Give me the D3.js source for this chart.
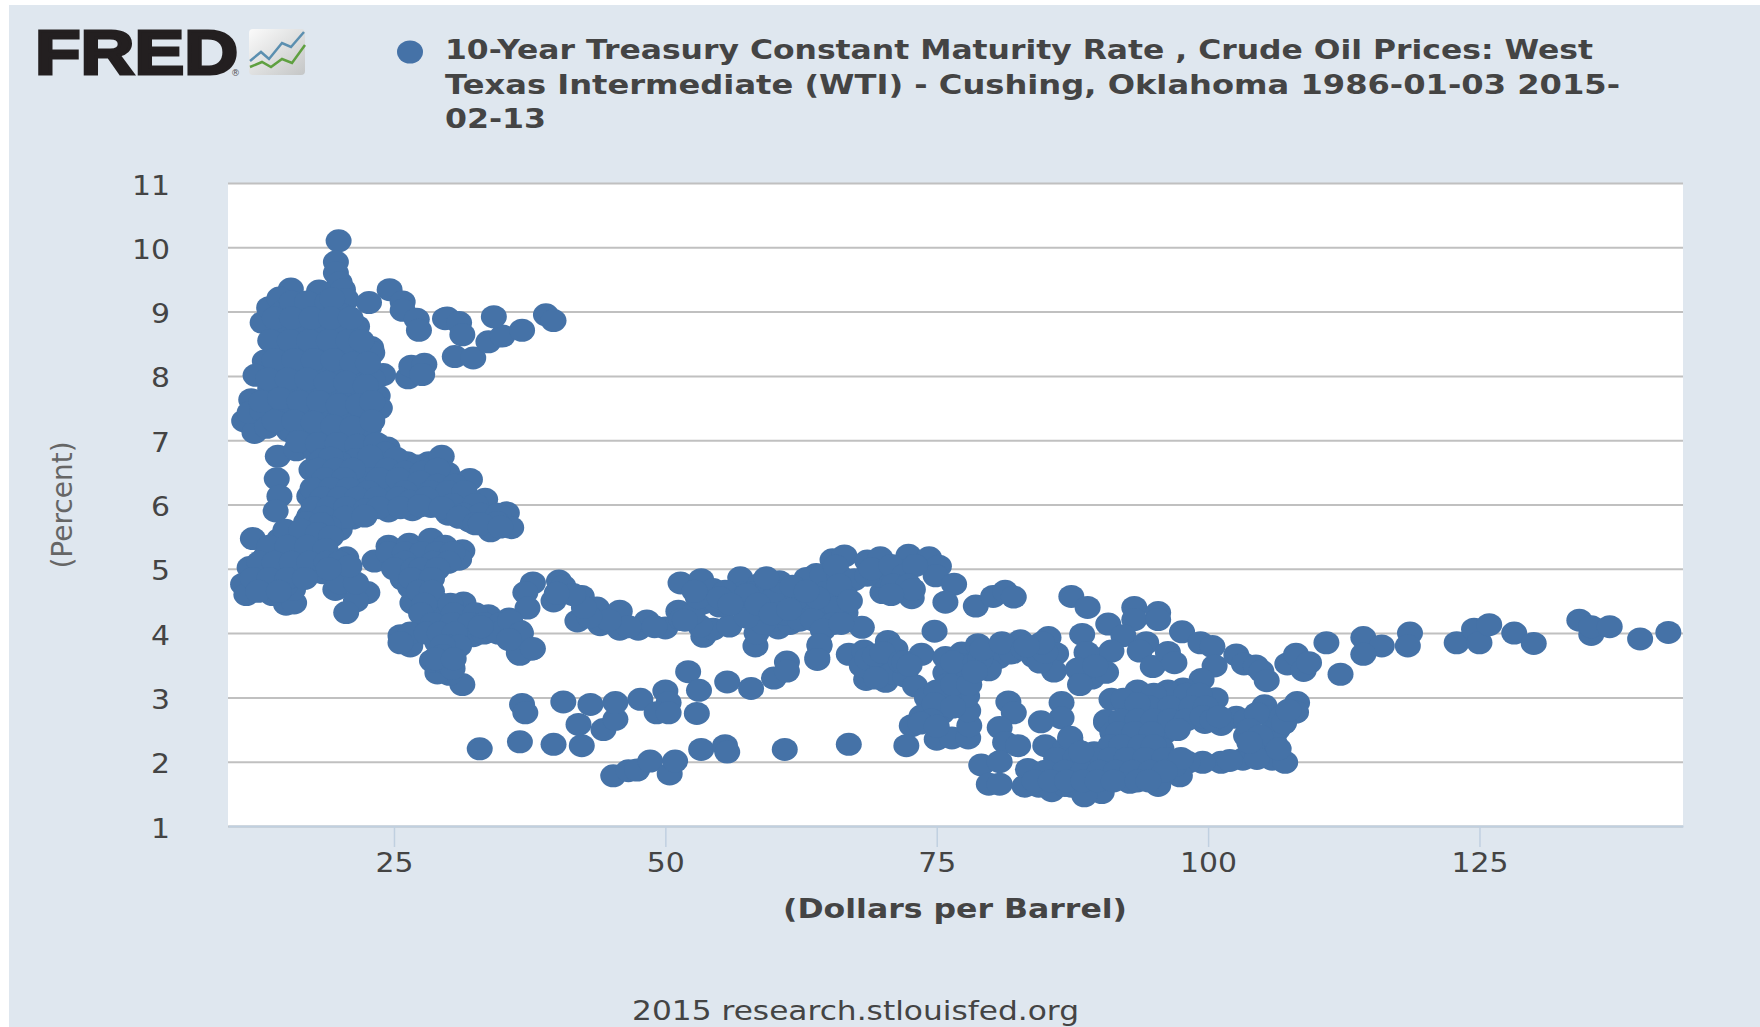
<!DOCTYPE html>
<html>
<head>
<meta charset="utf-8">
<title>FRED scatter</title>
<script src="https://cdn.jsdelivr.net/npm/d3@7"></script>
<style>
  body { margin: 0; background: white; overflow: hidden; }
  text { font-family: "DejaVu Sans", sans-serif; fill: #444; }
</style>
</head>
<body>
<script>
const upperCloud = [
  [19.9,10.1],[19.65,9.77],[19.65,9.6],[15.5,9.35],[20,9.45],[18.1,9.32],[20.3,9.34],[20.6,9.19],
  [12.9,8.83],[13.5,9.06],[14.45,9.21],[13.1,8.23],[12.25,8.01],[11.85,7.63],[11.2,7.3],[12.15,7.12],[11.7,7.43],
  [21.6,8.77],[22.9,8.44],[23,8.36],[24,8.02],[23.5,7.69],[23.7,7.5],[22.7,7.2],[24.4,6.88],[14.3,6.75],
  [14.8,9],[16.6,9.1],[18.4,9.05],[20.2,8.95],[14.6,8.7],[16.4,8.78],[18.2,8.7],[20,8.65],[21.4,8.45],
  [15,8.4],[16.8,8.45],[18.6,8.38],[20.4,8.32],[22,8.15],[14.4,8.1],[16.2,8.12],[18,8.05],[19.8,8.02],[21.6,7.9],[23,7.95],
  [13.6,7.8],[15.4,7.82],[17.2,7.75],[19,7.72],[20.8,7.68],[22.4,7.62],[12.9,7.45],[14.7,7.5],[16.5,7.45],[18.3,7.42],[20.1,7.38],[21.9,7.35],
  [13.3,7.2],[15.3,7.15],[17.1,7.12],[18.9,7.08],[20.7,7.05],[22.3,7],[16,6.85],[17.8,6.82],[19.6,6.8],[21.4,6.78],[23.2,6.72],
  [15.6,9.15],[17,9.15],[18.9,9.15],[19.3,9.2],[14,8.9],[15.6,8.9],[17.4,8.9],[19.2,8.9],[21,8.9],
  [13.6,8.55],[15.4,8.55],[17.2,8.55],[19,8.55],[20.8,8.55],[22,8.55],[14,8.25],[15.8,8.25],[17.6,8.25],[19.4,8.25],[21.2,8.2],[22.6,8.2],
  [13.4,7.95],[15.2,7.95],[17,7.95],[18.8,7.9],[20.6,7.9],[22.4,7.85],[12.8,7.6],[14.5,7.65],[16.3,7.6],[18.1,7.6],[19.9,7.55],[21.7,7.55],[23,7.6],
  [14,7.3],[15.8,7.3],[17.6,7.28],[19.4,7.22],[21.2,7.2],[23,7.3],[16.2,6.98],[18,6.95],[19.8,6.95],[21.6,6.92],[23.4,6.95]
];
const middleCloud = [
  [14.2,6.4],[14.45,6.13],[14.1,5.9],[17.4,6.54],[17.2,6.13],[17.2,5.82],[18.4,6.7],[24.2,6.8],[26.2,6.65],[28.2,6.65],[29.4,6.75],
  [29.9,6.49],[32,6.39],[33.4,6.08],[35.4,5.87],[35.8,5.64],[33.9,5.59],[32,5.74],[30,5.85],[28.4,5.97],[26.7,5.92],[24.5,5.9],[21.2,5.79],[20,5.61],[18.4,5.46],
  [22.4,6.34],[24.2,6.29],[26.1,6.34],[28.2,6.38],[27,6.13],[29.4,6.13],[31,6.08],[31.9,5.97],[22,6.03],[19.7,6.39],[19.7,6.03],[21.5,6.7],[20,6.65],[23,6.55],[25,6.5],[24.5,6.1],[21,6.2],
  [19.2,6.72],[22.8,6.75],[25.2,6.72],[27.2,6.6],[18,6.55],[19.6,6.55],[21.2,6.55],[24.4,6.55],[26,6.5],[27.6,6.5],[29,6.55],
  [18.6,6.4],[20.4,6.4],[23.6,6.4],[25.4,6.4],[27.4,6.35],[29,6.3],[30.6,6.3],[17.5,6.25],[19.2,6.25],[20.8,6.25],[22.6,6.2],[26,6.2],[28.4,6.2],[30,6.2],[31.5,6.2],
  [18.4,6.1],[20,6.1],[21.6,6.1],[23.4,6.1],[25.4,6.1],[26.5,6.05],[28,6.1],[30.4,6],[32.5,6],[17.6,5.95],[19,5.95],[20.6,5.95],[22.4,5.92],[23.6,5.95],[25.6,5.95],[27.4,5.98],[29.4,5.95],[31.4,5.85],[33,5.85],[34.6,5.85],
  [18.5,5.8],[20.5,5.8],[22.3,5.82],[31,5.8],[32.5,5.7],[34.5,5.72],[17.5,5.65],[19,5.65],[33,5.7],[34.8,5.65]
];
const lowerLeftCloud = [
  [12,5.47],[11.7,5.02],[11.1,4.76],[11.4,4.6],[13.8,4.6],[15.06,4.45],[15.8,4.47],[15.7,4.68],[14.1,4.94],[13.2,5.2],
  [16,5.2],[16,5.46],[14.45,5.46],[16.9,5.72],[18.3,5.7],[18.1,5.2],[18.4,4.94],[20.6,5.17],[20.3,4.94],[19.6,4.68],[22.55,4.63],[21.5,4.5],[20.6,4.32],
  [13,4.85],[14.8,5.2],[16.5,4.95],[15,4.75],[17.2,5.45],
  [15,5.6],[16.5,5.6],[18,5.55],[19.2,5.5],[13.5,5.35],[15.2,5.35],[17,5.35],[18.7,5.3],[12.6,5.1],[14,5.1],[15.6,5.1],[17.2,5.1],[18.8,5.1],[20,5.1],
  [12,4.85],[13.5,4.85],[15.2,4.85],[16.8,4.85],[12.5,4.65],[14.4,4.65],[20,4.78],[21.5,4.78],[20.9,5.04],[19,5]
];
const secondCloud = [
  [23.2,5.12],[24.5,5.35],[26.4,5.38],[28.4,5.46],[29.7,5.35],[31.3,5.28],[31,5.15],[29.4,5.09],[27.5,5.15],[25.2,5.09],
  [25.8,4.84],[27.3,4.84],[28.2,4.94],[26.7,4.47],[26.5,4.71],[29.1,4.47],[31.4,4.47],[33.7,4.27],[35.6,4.22],[36.6,4.03],[37.7,3.75],[36.6,3.67],
  [25.6,3.96],[26.5,3.8],[29.7,4.11],[31.3,4.06],[32.3,3.96],[28.2,4.27],[29.7,4.3],[31,4.25],[27.5,4.05],[34,4.05],[35.5,4.02],
  [31.3,3.2],[30.1,3.36],[29,3.38],[28.5,3.57],[30.5,3.7],[29,3.85],[30.6,3.9],
  [24.5,5.25],[26,5.25],[27.6,5.25],[29,5.25],[30.4,5.25],[26,5.1],[28.6,5.1],[30,5.1],[25,5],[26.8,5],[27.5,5],[29,5],[26.6,4.85],[28.5,4.85],[27.3,4.65],[28.5,4.65],
  [27.8,4.45],[30.2,4.45],[30.5,4.3],[32.5,4.3],[27.5,4.3],[28.6,4.15],[30.4,4.15],[32,4.15],[33.3,4.15],[34.8,4.15],[26.5,4],[28,4],[29.2,4],[30.6,4],[33.3,4],[34.6,4],
  [25.6,3.85],[30,3.8],[31,3.8],[29.5,3.8],[29.5,3.65],[29.6,3.55],[30.4,3.45],[28.8,3.6],[30.5,3.6],[33,4.1],[36.2,3.85]
];
const fortiesToSixties = [
  [37.8,4.78],[37.1,4.63],[37.3,4.39],[35.7,4.19],[36.7,4],[36.5,3.69],[37.8,3.76],[35.6,3.9],
  [40.2,4.81],[40.6,4.73],[39.7,4.5],[42.3,4.57],[43.7,4.39],[41.9,4.19],[45.8,4.34],[44,4.13],[45.8,4.06],[47.5,4.06],[48.3,4.19],[50,4.08],[51.2,4.34],[51.5,4.21],
  [51.4,4.78],[53.3,4.83],[54.4,4.68],[53.5,4.47],[53.5,3.95],[54.4,4.06],[53.2,4.11],[55.9,4.11],[56.9,4.86],[58.7,4.76],[56.2,4.52],[55,4.42],
  [58.3,3.8],[58.4,4],[60.4,4.08],[60.7,4.73],[58.4,4.3],[59,4.57],[61.7,4.37],[62.3,4.73],[63.9,4.91],[63.7,4.21],[64.2,3.8],[64,3.62],[65.4,5.14],
  [60,4.4],[62.5,4.5],[57.5,4.45],[65,4.7],[65.2,4.3],[60.5,4.55],
  [54.6,4.5],[57,4.62],[58,4.62],[55.5,4.65],[59.5,4.75],[61,4.6],[63.5,4.6],[62.5,4.3],[60,4.2],[59,4.15],[61.5,4.15],[61,4.3],[57.5,4.25],
  [63,4.85],[64.5,4.9],[66,4.9],[65.5,4.55],[63,4.4],[66,4.45],[52.5,4.3],[53,4.55],[51.8,4.2],[49,4.1],[46.6,4.1],[44.8,4.2],[43,4.25],[42.5,4.4],[41.5,4.6],[40,4.62],
  [52.7,4.65],[55,4.55],[57.5,4.6],[56,4.45],[60,4.55],[62.2,4.55],[60.5,4.8],[59.3,4.86],[58.5,4.45],[59.8,4.3],[62.4,4.2]
];
const lowRatesLeft = [
  [32.9,2.2],[36.8,2.89],[37.1,2.76],[36.6,2.31],[39.7,2.27],[42.3,2.25],[40.6,2.93],[43.1,2.89],[42,2.58],[44.3,2.5],[45.4,2.66],[45.4,2.92],[47.7,2.97],
  [50,3.1],[50.3,2.92],[49.2,2.76],[50.3,2.76],[52.1,3.4],[53.1,3.11],[52.9,2.75],[55.7,3.24],[57.9,3.14],[60,3.3],[61.2,3.55],[61.2,3.41],
  [45.2,1.78],[46.6,1.86],[47.4,1.87],[48.6,2.01],[50.4,1.81],[50.9,2.01],[53.3,2.19],[55.5,2.25],[55.7,2.15],[61,2.19],[66.9,2.27]
];
const seventiesTop = [
  [66.5,5.2],[65.7,5.04],[68.6,5.12],[69.8,5.17],[72.4,5.21],[74.3,5.17],[75.2,5.04],[74.9,4.89],[76.6,4.76],[75.8,4.48],[72.7,4.55],[70,4.63],[69.7,4.89],[71.5,4.89],
  [67.4,4.83],[66.6,4.57],[66.6,4.32],[64.8,4.37],[64.8,4.63],[63.6,4.21],[61.7,4.73],[61.4,4.37],[68.1,4.09],[78.6,4.42],[80.2,4.57],[81.3,4.65],[82.1,4.56],
  [68.6,4.9],[69,5],[70.8,5.05],[72,4.9],[73,5.05],[71,4.75],[72.4,4.75],[72.8,4.68],[70.8,4.6],[65.8,4.4],[66,4.75],[67,4.5],[64,4.55],[63,4.65],[65.5,4.15],[64.5,4.05],[66.2,4.15]
];
const seventiesToNinety = [
  [74.8,4.03],[64.2,3.82],[64,3.59],[66.9,3.67],[68.3,3.72],[70.5,3.87],[71.2,3.75],[68.5,3.28],[70.3,3.25],[68.1,3.49],[69.7,3.49],[70.9,3.38],[72.1,3.33],[73,3.18],[74.1,2.99],
  [75.5,2.76],[73.6,2.71],[72.7,2.56],[75,2.35],[76.4,2.37],[77.9,2.37],[78,2.56],[77.9,2.79],[77.8,3.02],[76.1,3.02],[72.2,2.25],
  [73.6,3.67],[75.8,3.62],[77.3,3.69],[78.8,3.82],[80.1,3.72],[80.7,3.62],[79.8,3.43],[77.3,3.38],[75.8,3.38],[82.7,3.88],[83.9,3.64],[85.3,3.93],[86,3.68],[85.8,3.41],[81.9,3.69],
  [86.5,2.92],[86.5,2.68],[84.6,2.62],[81.6,2.93],[82.1,2.76],[80.8,2.53],[81.3,2.3],[82.5,2.25],[85,2.25],[87.3,2.35],[88,2.17],[89.5,2.14],
  [79.1,1.95],[80.8,2],[79.8,1.65],[80.8,1.65],[83.4,1.88],[83.1,1.62],[84.4,1.62],[85.6,1.55],[85.9,1.83],[87.4,1.62],[87.1,1.83],[91.1,2.97],[90.6,2.61],[91.2,2.45],
  [68.6,3.6],[69.3,3.65],[70,3.7],[71.7,3.55],[69.4,3.3],[72,3.55],[72.5,3.5],[76,3.2],[75,3.1],[74.8,2.9],[76.5,2.85],[76.5,3.2],[78,3.2],[74.5,2.65],[73.5,2.6],[75,2.55],
  [77.5,3.5],[76.5,3.55],[78.6,3.55],[79,3.6],[78.5,3.4],[79.2,3.75],[81,3.85],[83,3.75],[84.5,3.8],[84.5,3.55],[85,3.7],[84.7,3.85],[83.3,3.8],[88.8,3.5],[90,3.55],[89.3,3.3],[90,3.6]
];
const ninetiesOn = [
  [87.4,4.57],[88.9,4.4],[90.8,4.14],[93.2,4.4],[95.4,4.32],[93.2,4.21],[95.4,4.21],[92.2,3.96],[88.4,3.98],[91.1,3.72],[88.8,3.7],[88,3.44],[90.6,3.39],[88.2,3.2],[89.6,3.49],
  [94.3,3.85],[93.7,3.72],[94.9,3.48],[96.3,3.7],[96.9,3.54],[97.6,4.02],[99.3,3.85],[100.4,3.79],[100.6,3.49],[99.4,3.28],[102.6,3.66],[103.3,3.52],[104.4,3.49],[104.9,3.41],[105.4,3.26],
  [108.2,2.92],[108.1,2.77],[105.2,2.87],[105.8,2.69],[106.4,2.5],[106.1,2.3],[105.9,2.04],[107.1,1.99],[103.2,2.04],[101.2,1.99],[99.5,1.99],[98.1,1.99],[102.6,2.69],[101.2,2.58],[99.7,2.61],[100.7,2.98],
  [99,2.89],[97.7,3.13],[96.3,3.1],[95.7,2.92],[97.8,2.82],[96.9,2.61],[95.4,2.71],[93.5,3.1],[92.2,2.97],[90.6,2.64],[91.2,2.45],[93.8,2.76],[92.9,2.51],[94.5,2.4],[96,2.45],[92.3,2.25],[95.7,2.2],[97.4,1.78],
  [95.4,1.63],[92.8,1.68],[90.2,1.52],[88.6,1.47],[90.5,1.94],[92,1.88],[93.8,1.94],[95.4,1.88],[96.9,1.94],[88,1.78],[86.8,1.63],[86.5,1.88],[86.8,2.19],[87.3,2.38],[89,2.04],[104.9,2.25],[103.5,2.4],
  [96.5,3.05],[95,3.05],[98,3.05],[99.2,3.05],[94.6,2.85],[96.5,2.85],[98.5,2.85],[99.8,2.85],[93.5,2.9],[92,2.65],[93.5,2.65],[95,2.65],[96.5,2.65],[98,2.65],[99.5,2.7],[100.4,2.65],
  [91.7,2.45],[93.2,2.45],[94.8,2.45],[97.2,2.5],[91,2.25],[92,2.25],[93.8,2.25],[95,2.25],[86,2.05],[87.8,2.05],[89.5,2.05],[91,2.05],[92.5,2.05],[94.2,2.05],[96,2.05],[97.5,2.05],
  [85,1.85],[86.8,1.85],[88.5,1.85],[90,1.85],[91.5,1.85],[93,1.85],[94.7,1.85],[96,1.85],[84,1.7],[85.5,1.7],[87,1.7],[88.5,1.7],[89.8,1.7],[91.3,1.7],[93.5,1.7],[94.5,1.7],[88.3,2.15],
  [101,2.7],[103.5,2.65],[104.5,2.75],[103.8,2.5],[104.8,2.4],[104,2.2],[104.5,2.05],[102,2.02],[106.8,2.7],[107,2.6],[107.4,2.8],[106.5,2.2],[103.8,2.3]
];
const highOilTail = [
  [107.3,3.52],[108.1,3.67],[108.8,3.42],[109.3,3.54],[110.9,3.85],[114.3,3.93],[116,3.8],[114.3,3.67],[112.2,3.36],[118.6,4],[118.4,3.8],
  [122.9,3.85],[124.5,4.06],[125,3.85],[125.9,4.13],[128.2,4],[130,3.84],[134.2,4.2],[135.3,3.98],[135.3,4.1],[137,4.1],[139.8,3.91],[142.4,4.01]
];
const upperArm = [
  [24.6,9.34],[22.7,9.14],[25.8,9.15],[25.8,9.02],[27.1,8.88],[27.3,8.71],[29.7,8.89],[29.9,8.9],[31,8.83],[31.3,8.64],[30.6,8.3],[32.3,8.28],[33.7,8.53],[35,8.62],[36.8,8.71],[34.2,8.92],[39,8.95],[39.7,8.86],
  [26.3,7.97],[26.6,8.15],[27.8,8.18],[27.6,8.02]
];
const yTicks = [1, 2, 3, 4, 5, 6, 7, 8, 9, 10, 11];
const xTicks = [25, 50, 75, 100, 125];
const titleLines = [
  "10-Year Treasury Constant Maturity Rate , Crude Oil Prices: West",
  "Texas Intermediate (WTI) - Cushing, Oklahoma 1986-01-03 2015-",
  "02-13"
];
const titleWidths = [1148, 1175, 101];

const allPoints = [].concat(upperCloud, middleCloud, lowerLeftCloud, secondCloud, fortiesToSixties,
  lowRatesLeft, seventiesTop, seventiesToNinety, ninetiesOn, highOilTail, upperArm);

const dotColor = "#4572a7";
const svg = d3.select("body").append("svg").attr("width", 1760).attr("height", 1027);

svg.append("rect").attr("x", 9).attr("y", 5).attr("width", 1751).attr("height", 1022).attr("fill", "#dfe7ef");

const plotLeft = 228, plotRight = 1683, plotTop = 183, plotBottom = 826;
const x = d3.scaleLinear().domain([9.71, 143.75]).range([plotLeft, plotRight]);
const y = d3.scaleLinear().domain([1, 11]).range([plotBottom, plotTop]);

svg.append("rect").attr("x", plotLeft).attr("y", plotTop).attr("width", plotRight - plotLeft).attr("height", plotBottom - plotTop).attr("fill", "white");

// grid + y labels
const yAxis = svg.append("g")
  .attr("transform", `translate(${plotLeft},0)`)
  .call(d3.axisLeft(y).tickValues(yTicks).tickFormat(d3.format("d")).tickSize(-(plotRight - plotLeft)).tickPadding(58));
yAxis.select(".domain").remove();
yAxis.selectAll("line").attr("stroke", "#c0c0c0").attr("stroke-width", 2);
yAxis.selectAll("text").attr("dy", 11)
  .attr("textLength", d => String(d).length * 19).attr("lengthAdjust", "spacingAndGlyphs")
  .style("font-size", "27px").style("font-family", '"DejaVu Sans"').style("fill", "#444");

// x axis
const xAxis = svg.append("g")
  .attr("transform", `translate(0,${plotBottom})`)
  .call(d3.axisBottom(x).tickValues(xTicks).tickSize(21).tickSizeOuter(0));
xAxis.select(".domain").attr("stroke", "#c0d0e0").attr("stroke-width", 2);
xAxis.selectAll("line").attr("stroke", "#c0d0e0").attr("stroke-width", 1.5);
xAxis.selectAll("text").attr("y", 46).attr("dy", 0)
  .attr("textLength", d => String(d).length * 19).attr("lengthAdjust", "spacingAndGlyphs")
  .style("font-size", "27px").style("font-family", '"DejaVu Sans"').style("fill", "#444");

svg.append("g").selectAll("ellipse")
  .data(allPoints)
  .join("ellipse")
    .attr("cx", d => x(d[0]))
    .attr("cy", d => y(d[1]))
    .attr("rx", 13)
    .attr("ry", 11.5)
    .attr("fill", dotColor);

// legend
svg.append("ellipse").attr("cx", 410).attr("cy", 52).attr("rx", 13).attr("ry", 11.5).attr("fill", dotColor);
svg.selectAll(".title").data(titleLines).join("text")
  .attr("class", "title")
  .attr("x", 445)
  .attr("y", (d, i) => 59 + i * 34.5)
  .attr("textLength", (d, i) => titleWidths[i])
  .attr("lengthAdjust", "spacingAndGlyphs")
  .style("font-size", "26px")
  .style("font-weight", "bold")
  .text(d => d);

svg.append("text").attr("x", 783).attr("y", 918)
  .attr("textLength", 344).attr("lengthAdjust", "spacingAndGlyphs")
  .style("font-size", "26px").style("font-weight", "bold")
  .text("(Dollars per Barrel)");

svg.append("text").attr("transform", "translate(72,505) rotate(-90)")
  .attr("text-anchor", "middle")
  .style("font-size", "28px").style("fill", "#666")
  .text("(Percent)");

svg.append("text").attr("x", 632).attr("y", 1020)
  .attr("textLength", 447).attr("lengthAdjust", "spacingAndGlyphs")
  .style("font-size", "27px")
  .text("2015 research.stlouisfed.org");

// FRED logo
const logo = svg.append("g");
logo.append("text").attr("x", 35).attr("y", 74)
  .attr("textLength", 203).attr("lengthAdjust", "spacingAndGlyphs")
  .style("font-family", '"Liberation Sans"').style("font-weight", "bold").style("font-size", "63px")
  .style("fill", "#231f20").style("stroke", "#231f20").style("stroke-width", 3)
  .text("FRED");
logo.append("text").attr("x", 231).attr("y", 76)
  .style("font-size", "9px").style("fill", "#555").text("®");

const grad = svg.append("defs").append("linearGradient").attr("id", "iconBg").attr("x1", 0).attr("y1", 0).attr("x2", 1).attr("y2", 1);
grad.append("stop").attr("offset", "0%").attr("stop-color", "#fbfbfb");
grad.append("stop").attr("offset", "100%").attr("stop-color", "#c4c6c6");
logo.append("rect").attr("x", 249).attr("y", 29).attr("width", 56).attr("height", 46).attr("rx", 4).attr("fill", "url(#iconBg)");
const iconLine = d3.line();
logo.append("path").attr("d", iconLine([[250,61],[261,52],[269,59],[282,43],[291,47],[304,32]]))
  .attr("fill", "none").attr("stroke", "#5b8fb0").attr("stroke-width", 2.5);
logo.append("path").attr("d", iconLine([[250,67],[262,62],[271,67],[282,59],[292,63],[305,45]]))
  .attr("fill", "none").attr("stroke", "#5fa040").attr("stroke-width", 2.5);
</script>
</body>
</html>
